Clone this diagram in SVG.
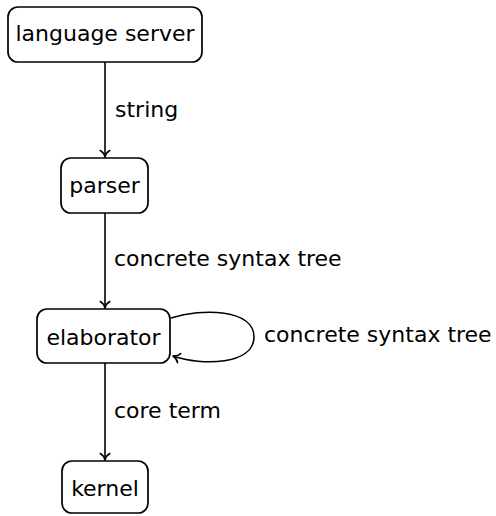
<svg xmlns="http://www.w3.org/2000/svg" width="496" height="516" viewBox="0 0 496 516">
  <style>
    .box { fill: #ffffff; stroke: #000000; stroke-width: 1.7; }
    .lbl { font-family: "DejaVu Sans", "Liberation Sans", sans-serif; font-size: 22px; fill: #000000; }
    .mid { text-anchor: middle; }
    .edge { fill: none; stroke: #000000; stroke-width: 1.6; }
  </style>
  <defs>
    <marker id="tip" markerUnits="userSpaceOnUse" markerWidth="14" markerHeight="14" viewBox="-8 -7 10 14" refX="0" refY="0" orient="auto">
      <path d="M -6.5,-4.8 C -5,-2 -2.5,-0.6 0,0 C -2.5,0.6 -5,2 -6.5,4.8" fill="none" stroke="#000000" stroke-width="1.6" stroke-linecap="round" stroke-linejoin="round"/>
    </marker>
  </defs>

  <g id="connectors">
    <path class="edge" d="M 105,62 L 105,157" marker-end="url(#tip)"/>
    <text class="lbl" x="115" y="117">string</text>
    <path class="edge" d="M 105,213 L 105,308" marker-end="url(#tip)"/>
    <text class="lbl" x="114" y="266">concrete syntax tree</text>
    <path class="edge" d="M 171,318 C 202,308 254,309 254,337 C 254,365 202,366 173,356" marker-end="url(#tip)"/>
    <text class="lbl" x="264" y="342">concrete syntax tree</text>
    <path class="edge" d="M 105,363 L 105,460" marker-end="url(#tip)"/>
    <text class="lbl" x="114" y="418">core term</text>
  </g>

  <g id="language-server">
    <rect class="box" x="8" y="7" width="194" height="55" rx="10"/>
    <text class="lbl mid" x="105" y="41">language server</text>
  </g>
  <g id="parser">
    <rect class="box" x="61" y="158" width="87" height="55" rx="10"/>
    <text class="lbl mid" x="104.5" y="193">parser</text>
  </g>
  <g id="elaborator">
    <rect class="box" x="37" y="309" width="133" height="54" rx="10"/>
    <text class="lbl mid" x="103.5" y="345">elaborator</text>
  </g>
  <g id="kernel">
    <rect class="box" x="62" y="461" width="86" height="52" rx="10"/>
    <text class="lbl mid" x="105" y="496">kernel</text>
  </g>
</svg>
